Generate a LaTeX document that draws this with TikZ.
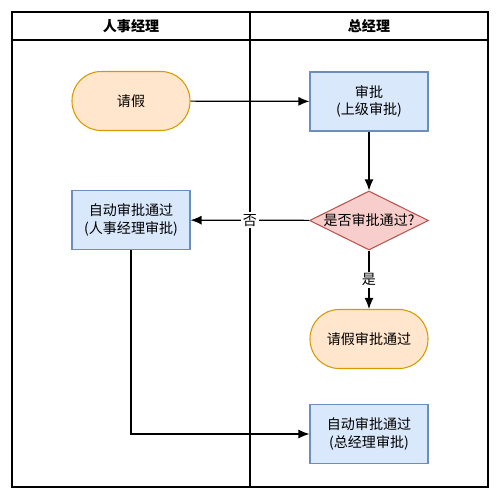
\documentclass[tikz,border=0pt]{standalone}
\usepackage{fontspec}
\setmainfont{Noto Sans CJK SC}
\usetikzlibrary{shapes.geometric,arrows.meta}
\definecolor{termfill}{HTML}{FFE6CC}
\definecolor{termline}{HTML}{D79B00}
\definecolor{taskfill}{HTML}{DAE8FC}
\definecolor{taskline}{HTML}{6C8EBF}
\definecolor{decfill}{HTML}{F8CECC}
\definecolor{decline}{HTML}{B85450}
\tikzset{
	terminal/.style={rectangle, rounded corners=0.58cm, draw=termline, fill=termfill, line width=0.6pt, minimum width=2.36cm, minimum height=1.18cm, font=\fontsize{8}{10}\selectfont, align=center},
	task/.style={rectangle, draw=taskline, fill=taskfill, line width=0.6pt, minimum width=2.36cm, minimum height=1.18cm, font=\fontsize{8}{10}\selectfont, align=center},
	decide/.style={diamond, aspect=2, draw=decline, fill=decfill, line width=0.6pt, minimum width=2.38cm, minimum height=1.18cm, inner sep=0pt, font=\fontsize{8}{10}\selectfont, align=center},
	flow/.style={-{Latex[length=2.2mm,width=1.8mm]}, line width=0.7pt},
	tag/.style={fill=white, inner sep=1pt, font=\fontsize{8}{10}\selectfont},
}
\begin{document}
\begin{tikzpicture}[x=0.02cm, y=-0.02cm]
		%%%%% LANES %%%%%
		\useasboundingbox (0, 0) rectangle (500, 500);
		\fill[white] (0, 0) rectangle (500, 500);
		
		\draw[line width=0.8pt] (12, 12) rectangle (488, 487);
		\draw[line width=0.8pt] (12, 40) -- (488, 40);
		\draw[line width=0.8pt] (250, 12) -- (250, 487);
		
		\node[font=\fontsize{8}{10}\selectfont\bfseries] (hr) at (131, 26) {人事经理};
		\node[font=\fontsize{8}{10}\selectfont\bfseries] (gm) at (369, 26) {总经理};
		
		%%%%% NODES %%%%%
		\node[terminal] (leave) at (131, 101) {请假};
		\node[task] (approve) at (369, 101.5) {审批\\(上级审批)};
		\node[decide] (check) at (369, 220.5) {是否审批通过?};
		\node[task] (autohr) at (131, 220) {自动审批通过\\(人事经理审批)};
		\node[terminal] (done) at (369, 339) {请假审批通过};
		\node[task] (autogm) at (369, 434) {自动审批通过\\(总经理审批)};
		
		%%%%% EDGES %%%%%
		\draw[flow] (leave) -- (approve);
		\draw[flow] (approve) -- (check);
		\draw[flow] (check) -- node[tag, pos=0.5] {否} (autohr);
		\draw[flow] (check) -- node[tag, pos=0.5] {是} (done);
		\draw[flow] (autohr) |- (autogm);
		
		%%%%% END %%%%%
	\end{tikzpicture}
\end{document}
